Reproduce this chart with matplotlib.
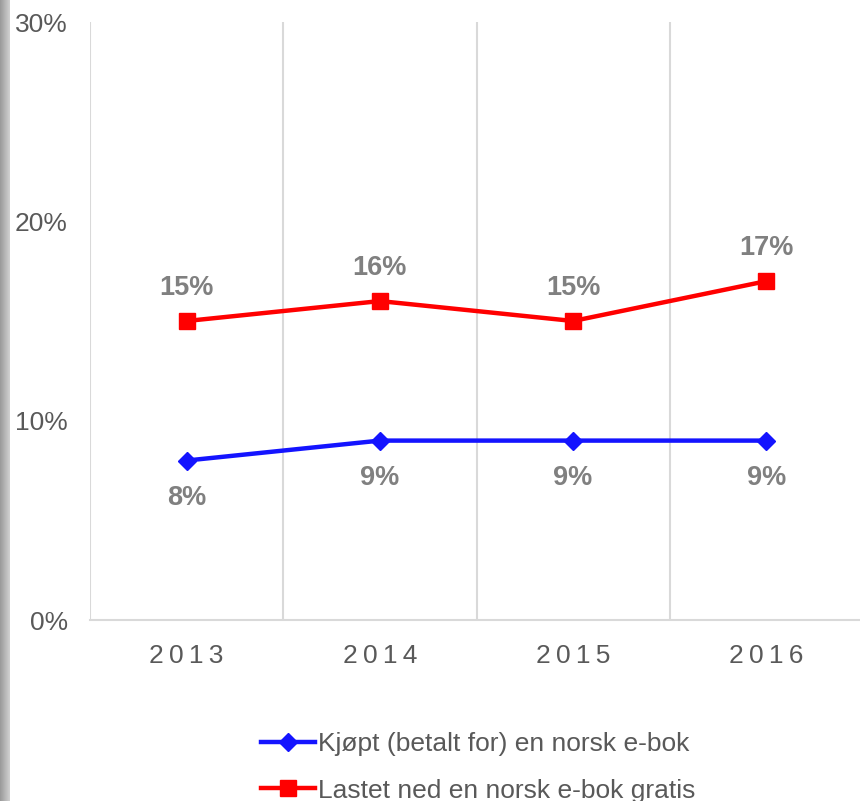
import numpy as np
import matplotlib
matplotlib.use("Agg")
import matplotlib.pyplot as plt

years = ["2013", "2014", "2015", "2016"]
kjopt = [8, 9, 9, 9]
lastet = [15, 16, 15, 17]
label_kjopt = "Kjøpt (betalt for) en norsk e-bok"
label_lastet = "Lastet ned en norsk e-bok gratis"

plt.rcParams['font.family'] = ['Liberation Sans', 'DejaVu Sans']

fig = plt.figure(figsize=(8.6, 8.01), dpi=100)

# grey strip at the left edge
strip = fig.add_axes([0, 0, 10 / 860, 1])
grad = np.linspace(0.60, 0.82, 50).reshape(1, -1)
strip.imshow(grad, aspect='auto', cmap='gray', vmin=0, vmax=1, extent=[0, 1, 0, 1])
strip.axis('off')

ax = fig.add_axes([90 / 860, 181 / 801, 773 / 860, 598 / 801])
x = np.arange(len(years))

ax.plot(x, kjopt, color='#1414ff', lw=3.2, marker='D', ms=9, label=label_kjopt)
ax.plot(x, lastet, color='#ff0000', lw=3.2, marker='s', ms=12, label=label_lastet)

for xi, v in zip(x, kjopt):
    ax.annotate(f"{v}%", (xi, v), xytext=(0, -27), textcoords='offset points',
                ha='center', va='center', fontsize=19.5, fontweight='bold', color='#808080')
for xi, v in zip(x, lastet):
    ax.annotate(f"{v}%", (xi, v), xytext=(0, 24), textcoords='offset points',
                ha='center', va='center', fontsize=19.5, fontweight='bold', color='#808080')

ax.set_xlim(-0.5, 3.5)
ax.set_ylim(0, 30)
ax.set_yticks([0, 10, 20, 30])
ax.set_yticklabels(["0%", "10%", "20%", "30%"])
ax.set_xticks(x)
ax.set_xticklabels(["\u2009".join(y) for y in years])
ax.set_xticks(np.arange(-0.5, 4, 1), minor=True)
ax.grid(True, which='minor', axis='x', color='#d9d9d9', lw=1.5)
ax.tick_params(axis='both', which='both', length=0)
ax.tick_params(axis='y', labelsize=19, labelcolor='#595959', pad=16)
ax.tick_params(axis='x', labelsize=19, labelcolor='#595959', pad=17)
for s in ['top', 'right', 'left']:
    ax.spines[s].set_visible(False)
ax.spines['bottom'].set_color('#d9d9d9')
ax.spines['bottom'].set_linewidth(1.5)

leg = fig.legend(loc='upper center', bbox_to_anchor=(478 / 860, 82 / 801), ncol=1,
                 frameon=False, fontsize=19, labelspacing=0.85, handlelength=2.05,
                 handletextpad=0.1, borderpad=0)
for t in leg.get_texts():
    t.set_color('#595959')

fig.savefig("out.png", dpi=100)
